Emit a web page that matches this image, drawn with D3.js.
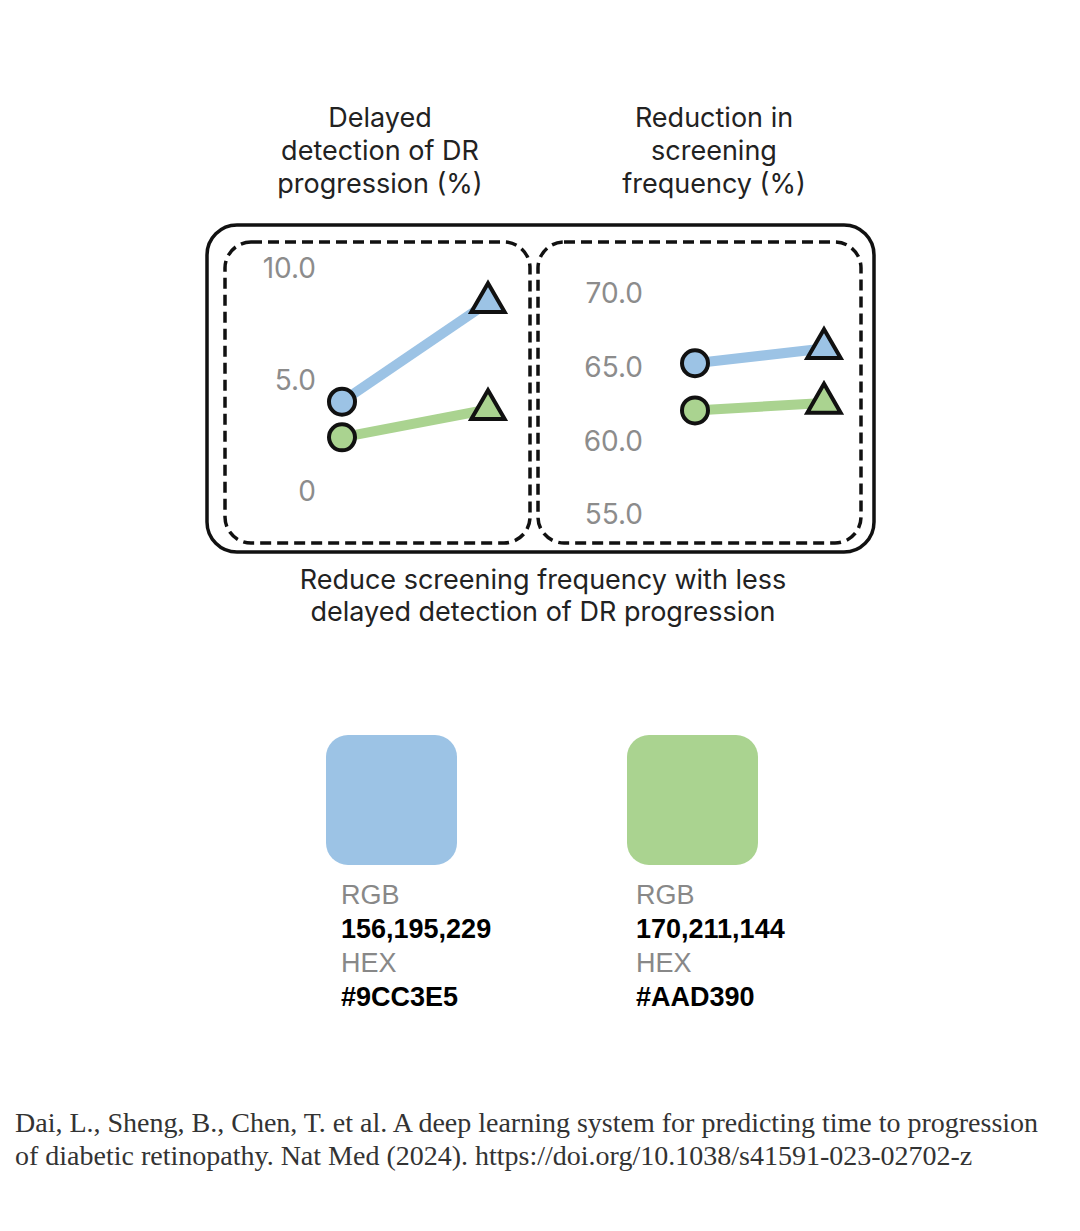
<!DOCTYPE html>
<html><head><meta charset="utf-8">
<script src="https://cdn.jsdelivr.net/npm/d3@7"></script>
<style>body{margin:0;background:#fff}svg{display:block}</style>
</head><body>
<script>
// ---- data ----
const stages = ["circle", "triangle"];
const seriesNames = ["blue", "green"];
const seriesColors = ["#9CC3E5", "#AAD390"];
const delayedBlue = [4.05, 8.5];
const delayedGreen = [2.45, 3.7];
const reductionBlue = [65.3, 66.3];
const reductionGreen = [62.1, 62.6];
const delayedTicks = [0, 5, 10];
const delayedTickLabels = ["0", "5.0", "10.0"];
const reductionTicks = [55, 60, 65, 70];
const reductionTickLabels = ["55.0", "60.0", "65.0", "70.0"];
const leftTitle = ["Delayed", "detection of DR", "progression (%)"];
const rightTitle = ["Reduction in", "screening", "frequency (%)"];
const caption = ["Reduce screening frequency with less", "delayed detection of DR progression"];
const swatchRGB = ["156,195,229", "170,211,144"];
const swatchHEX = ["#9CC3E5", "#AAD390"];
const citation = ["Dai, L., Sheng, B., Chen, T. et al. A deep learning system for predicting time to progression",
                  "of diabetic retinopathy. Nat Med (2024). https://doi.org/10.1038/s41591-023-02702-z"];

const W = 1080, H = 1231;
const svg = d3.select("body").append("svg").attr("width", W).attr("height", H);
const sans = "Inter, 'Noto Sans', sans-serif";

function multiline(lines, cx, y0, lh, size, color, family, weight, anchor) {
  const t = svg.append("text").attr("font-family", family).attr("font-size", size)
    .attr("fill", color).attr("font-weight", weight || 400).attr("text-anchor", anchor || "middle");
  lines.forEach((l, i) => t.append("tspan").attr("x", cx).attr("y", y0 + i * lh).attr("dy", "0.35em").text(l));
}
multiline(leftTitle, 380, 118, 33, 27, "#222", sans);
multiline(rightTitle, 714, 118, 33, 27, "#222", sans);
multiline(caption, 543, 580, 32, 27, "#222", sans);

// frames
svg.append("rect").attr("x", 207).attr("y", 225).attr("width", 667).attr("height", 327)
  .attr("rx", 30).attr("fill", "none").attr("stroke", "#111").attr("stroke-width", 3.5);
svg.append("rect").attr("x", 225).attr("y", 242).attr("width", 305).attr("height", 301)
  .attr("rx", 26).attr("fill", "none").attr("stroke", "#111").attr("stroke-width", 3.5).attr("stroke-dasharray", "11,6");
svg.append("rect").attr("x", 538).attr("y", 242).attr("width", 323).attr("height", 301)
  .attr("rx", 26).attr("fill", "none").attr("stroke", "#111").attr("stroke-width", 3.5).attr("stroke-dasharray", "11,6");

function panel(cfg) {
  const y = d3.scaleLinear().domain(cfg.domain).range(cfg.range);
  const x = d3.scalePoint().domain(stages).range(cfg.xr);
  const ax = svg.append("g").attr("transform", `translate(${cfg.axisX},0)`)
    .call(d3.axisLeft(y).tickValues(cfg.ticks).tickSize(0).tickPadding(0)
      .tickFormat((d, i) => cfg.labels[i]));
  ax.select(".domain").remove();
  ax.selectAll("text").attr("font-family", sans).attr("font-size", 28).attr("fill", "#8c8c8c");
  const line = d3.line().x((d, i) => x(stages[i])).y(d => y(d));
  cfg.series.forEach((vals, si) => {
    svg.append("path").attr("d", line(vals)).attr("fill", "none")
      .attr("stroke", seriesColors[si]).attr("stroke-width", 10);
  });
  cfg.series.forEach((vals, si) => {
    svg.append("circle").attr("cx", x(stages[0])).attr("cy", y(vals[0])).attr("r", 13)
      .attr("fill", seriesColors[si]).attr("stroke", "#111").attr("stroke-width", 4);
    svg.append("path").attr("d", d3.symbol(d3.symbolTriangle, 480)())
      .attr("transform", `translate(${x(stages[1])},${y(vals[1])})`)
      .attr("fill", seriesColors[si]).attr("stroke", "#111").attr("stroke-width", 4)
      .attr("stroke-linejoin", "miter");
  });
}
panel({domain: [0, 10], range: [492, 269], xr: [342, 488], axisX: 316,
       ticks: delayedTicks, labels: delayedTickLabels, series: [delayedBlue, delayedGreen]});
panel({domain: [55, 70], range: [515, 294], xr: [695, 824], axisX: 643,
       ticks: reductionTicks, labels: reductionTickLabels, series: [reductionBlue, reductionGreen]});

// swatches
const arial = "'Liberation Sans', Arial, sans-serif";
const swX = [326, 627];
const txX = [341, 636];
seriesColors.forEach((c, i) => {
  svg.append("rect").attr("x", swX[i]).attr("y", 735).attr("width", 131).attr("height", 130)
    .attr("rx", 22).attr("fill", c);
  const rows = [["RGB", "#888", 400], [swatchRGB[i], "#000", 700], ["HEX", "#888", 400], [swatchHEX[i], "#000", 700]];
  rows.forEach((r, j) => {
    svg.append("text").attr("x", txX[i]).attr("y", 895 + j * 33.7).attr("dy", "0.35em")
      .attr("font-family", arial).attr("font-size", 27).attr("font-weight", r[2]).attr("fill", r[1]).text(r[0]);
  });
});

// citation
citation.forEach((l, i) => {
  svg.append("text").attr("x", 15).attr("y", 1122 + i * 33).attr("dy", "0.35em")
    .attr("font-family", "'Liberation Serif', 'Times New Roman', serif").attr("font-size", 28)
    .attr("fill", "#333").text(l);
});
</script>
</body></html>
